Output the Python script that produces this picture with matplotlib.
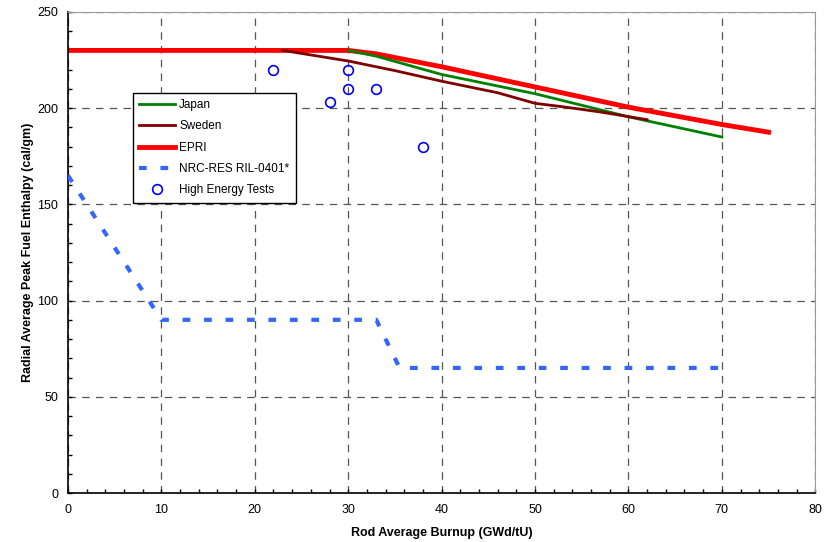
import matplotlib
matplotlib.use("Agg")
import matplotlib.pyplot as plt
from matplotlib.ticker import MultipleLocator

plt.rcParams['font.family'] = ['Liberation Sans', 'DejaVu Sans']

japan_x = [30, 33, 40, 50, 60, 70]
japan_y = [230, 227, 217.5, 207.5, 195.5, 185]

sweden_x = [23, 30, 35, 40, 46, 50, 53, 57, 62]
sweden_y = [230, 224.5, 219.5, 214, 208, 202.5, 200.7, 198, 194]

epri_x = [0, 30, 33, 40, 50, 60, 70, 75]
epri_y = [230, 230, 228.2, 221.5, 211, 200.5, 191.5, 187.5]

nrc_x = [0, 10, 33, 35.5, 70]
nrc_y = [165, 90, 90, 65, 65]

tests_x = [22, 30, 30, 28, 33, 38]
tests_y = [220, 220, 210, 203, 210, 180]

fig = plt.figure(figsize=(8.28, 5.42), dpi=100)
ax = fig.add_axes([0.0821, 0.0904, 0.9025, 0.8876])

ax.plot(japan_x, japan_y, color='#008000', lw=2, label='Japan', zorder=3)
ax.plot(sweden_x, sweden_y, color='#800000', lw=2, label='Sweden', zorder=3)
ax.plot(epri_x, epri_y, color='#ff0000', lw=3.5, label='EPRI', zorder=2)
ax.plot(nrc_x, nrc_y, color='#3366ff', lw=3, ls=(0, (1.85, 3.3)), label='NRC-RES RIL-0401*', zorder=3)
ax.plot(tests_x, tests_y, ls='none', marker='o', ms=7, mfc='none', mec='#0000ff', mew=1.2,
        label='High Energy Tests', zorder=4)

ax.set_xlim(0, 80)
ax.set_ylim(0, 250)
ax.xaxis.set_major_locator(MultipleLocator(10))
ax.xaxis.set_minor_locator(MultipleLocator(2))
ax.yaxis.set_major_locator(MultipleLocator(50))
ax.yaxis.set_minor_locator(MultipleLocator(10))
ax.tick_params(which='both', direction='in', length=3, width=1, labelsize=9, colors='black')
ax.tick_params(axis='x', pad=8)
ax.tick_params(axis='y', pad=7)

ax.grid(True, which='major', color='#555555', ls=(0, (6, 5)), lw=0.9)
for s in ['top', 'right']:
    ax.spines[s].set_color('#999999')
for s in ['left', 'bottom']:
    ax.spines[s].set_color('black')
    ax.spines[s].set_linewidth(1.2)

ax.set_xlabel('Rod Average Burnup (GWd/tU)', fontsize=9, fontweight='bold', labelpad=8)
ax.set_ylabel('Radial Average Peak Fuel Enthalpy (cal/gm)', fontsize=9, fontweight='bold', labelpad=2)

leg = ax.legend(loc='upper left', bbox_to_anchor=(0.087, 0.832), fontsize=8.5, frameon=True,
                fancybox=False, edgecolor='black', framealpha=1, borderpad=0.55,
                borderaxespad=0, labelspacing=0.78, handlelength=3.05, handletextpad=0.3)
leg.get_frame().set_linewidth(1.0)

fig.savefig('out.png', dpi=100)
